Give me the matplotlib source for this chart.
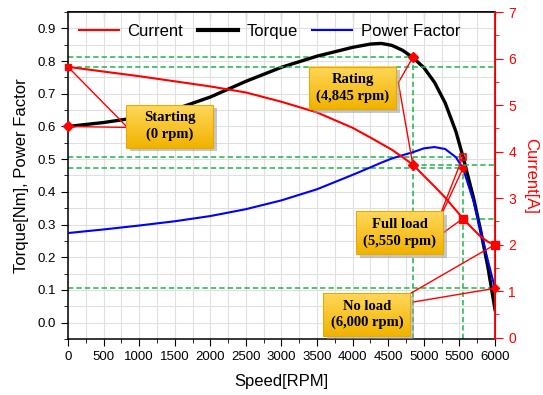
import numpy as np
import matplotlib
matplotlib.use("Agg")
import matplotlib.pyplot as plt
from matplotlib.patches import Rectangle
from matplotlib.lines import Line2D
from matplotlib.colors import LinearSegmentedColormap

plt.rcParams['font.family'] = ['Liberation Sans', 'DejaVu Sans']

# ---------------- data ----------------
speed = [0, 500, 1000, 1500, 2000, 2500, 3000, 3500, 4000, 4250, 4400, 4550,
         4700, 4845, 5000, 5150, 5300, 5450, 5550, 5700, 5800, 5900, 6000]
torque = [0.600, 0.612, 0.628, 0.652, 0.690, 0.738, 0.781, 0.815, 0.842, 0.852,
          0.854, 0.848, 0.833, 0.811, 0.780, 0.735, 0.672, 0.585, 0.508, 0.380,
          0.280, 0.170, 0.040]
power_factor = [0.274, 0.285, 0.297, 0.310, 0.326, 0.347, 0.374, 0.408, 0.452,
                0.475, 0.489, 0.502, 0.512, 0.521, 0.533, 0.537, 0.531, 0.506,
                0.472, 0.370, 0.280, 0.190, 0.105]
current = [5.82, 5.72, 5.62, 5.51, 5.40, 5.27, 5.07, 4.84, 4.51, 4.30, 4.17,
           4.04, 3.88, 3.72, 3.48, 3.25, 3.01, 2.74, 2.56, 2.32, 2.17, 2.06, 2.00]

# operating points: starting, rating, full load, no load
op_speed = [0, 4845, 5550, 6000]
op_torque = [0.600, 0.811, 0.508]          # starting, rating, full load
op_pf = [0.472, 0.105]                     # full load, no load
op_current = [5.82, 3.72, 2.56, 2.00]      # starting, rating, full load, no load
op_labels = ["Starting\n(0 rpm)", "Rating\n(4,845 rpm)",
             "Full load\n(5,550 rpm)", "No load\n(6,000 rpm)"]

x_ticks = list(range(0, 6001, 500))
left_ticks = [0.0, 0.1, 0.2, 0.3, 0.4, 0.5, 0.6, 0.7, 0.8, 0.9]
right_ticks = [0, 1, 2, 3, 4, 5, 6, 7]

# ---------------- figure ----------------
fig = plt.figure(figsize=(5.43, 3.95), dpi=100)
pos = [0.1252, 0.1418, 0.7864, 0.8278]
ax = fig.add_axes(pos)
ax2 = ax.twinx()

XL = (0, 6000)
YL = (-0.05, 0.95)
ax.set_xlim(*XL)
ax.set_ylim(*YL)
ax2.set_ylim(-0.03, 7.0)

GREEN = '#22b34c'
RED = '#ff0000'

# grid
ax.set_xticks(x_ticks)
ax.set_xticks(np.arange(0, 6001, 250), minor=True)
ax.set_yticks(left_ticks)
ax.set_yticks(np.arange(-0.05, 0.951, 0.05), minor=True)
ax.grid(True, which='both', color='#e0e0e0', lw=0.8, zorder=0)
ax.set_axisbelow(True)

# guide lines (dashed green)
gkw = dict(color=GREEN, lw=1.1, ls=(0, (3.5, 2)), zorder=2)
ax.plot([op_speed[0], op_speed[1]], [op_torque[1]] * 2, **gkw)
ax.plot([op_speed[0], op_speed[2]], [op_torque[2]] * 2, **gkw)
ax.plot([op_speed[0], op_speed[2]], [op_pf[0]] * 2, **gkw)
ax.plot([op_speed[0], op_speed[3]], [op_pf[1]] * 2, **gkw)
ax.plot([op_speed[1]] * 2, [YL[0], op_torque[1]], **gkw)
ax.plot([op_speed[2]] * 2, [YL[0], op_torque[2]], **gkw)
ax2.plot([op_speed[0], op_speed[3]], [op_current[0]] * 2, **gkw)
ax2.plot([op_speed[1], op_speed[3]], [op_current[1]] * 2, **gkw)
ax2.plot([op_speed[2], op_speed[3]], [op_current[2]] * 2, **gkw)

# curves
l_t, = ax.plot(speed, torque, color='black', lw=2.4, zorder=3, label='Torque')
l_pf, = ax.plot(speed, power_factor, color='#0000ff', lw=1.5, zorder=4,
                label='Power Factor')
l_c, = ax2.plot(speed, current, color=RED, lw=1.5, zorder=3, label='Current')

# connector lines (drawn on ax2, above curves)
def conn(p0, p1, target_ax):
    ax2.annotate('', xy=p1, xycoords=target_ax.transData, xytext=p0,
                 textcoords=ax.transData,
                 arrowprops=dict(arrowstyle='-', color=RED, lw=1.0,
                                 shrinkA=0, shrinkB=0), zorder=5)

conn((822, 0.597), (op_speed[0], op_torque[0]), ax)
conn((822, 0.600), (op_speed[0], op_current[0]), ax2)
conn((4642, 0.734), (op_speed[1], op_torque[1]), ax)
conn((4642, 0.734), (op_speed[1], op_current[1]), ax2)
conn((5250, 0.341), (op_speed[2], op_torque[2]), ax)
conn((5270, 0.341), (op_speed[2], op_pf[0]), ax)
conn((5274, 0.275), (op_speed[2], op_current[2]), ax2)
conn((4810, 0.089), (op_speed[3], op_current[3]), ax2)
conn((4850, 0.063), (op_speed[3], op_pf[1]), ax)

# markers
mk = dict(color=RED, zorder=6, ls='none', clip_on=False)
ax2.plot([op_speed[0], op_speed[1]], [0, 0], alpha=0)  # keep ax2 x scale
ax.plot([op_speed[0], op_speed[1]], [op_torque[0], op_torque[1]], marker='D', ms=5, **mk)
ax.plot([op_speed[2]], [op_torque[2]], marker='s', ms=5, mfc='none', mew=1.2, **mk)
ax.plot([op_speed[2], op_speed[3]], op_pf, marker='D', ms=4, **mk)
ax2.plot([op_speed[0]], [op_current[0]], marker='s', ms=5, **mk)
ax2.plot([op_speed[1]], [op_current[1]], marker='D', ms=5, **mk)
ax2.plot([op_speed[2], op_speed[3]], op_current[2:], marker='s', ms=5.5, **mk)

# overlay axes for callout boxes
ax3 = fig.add_axes(pos, zorder=10)
ax3.set_xlim(*XL)
ax3.set_ylim(*YL)
ax3.axis('off')
ax3.patch.set_alpha(0)

boxes = [(822, 0.535), (3392, 0.652), (4052, 0.209), (3588, -0.040)]
bw, bh = 1222, 0.131
grad = np.linspace(0, 1, 64).reshape(-1, 1)
cmap = LinearSegmentedColormap.from_list('gold', ['#ffd75a', '#f1b300'])
for (bx, by), txt in zip(boxes, op_labels):
    sh = Rectangle((bx + 45, by - 0.010), bw, bh, facecolor='#9a9a9a',
                   alpha=0.55, edgecolor='none', zorder=1, clip_on=False)
    ax3.add_patch(sh)
    im = ax3.imshow(grad, cmap=cmap, aspect='auto', interpolation='bilinear',
                    extent=(bx, bx + bw, by, by + bh), origin='upper', zorder=2)
    im.set_clip_on(False)
    rect = Rectangle((bx, by), bw, bh, facecolor='none', edgecolor='#e6ab00',
                     lw=0.8, zorder=3, clip_on=False)
    ax3.add_patch(rect)
    ax3.text(bx + bw / 2, by + bh / 2, txt, ha='center', va='center',
             family=['Liberation Serif'], fontweight='bold', fontsize=10.5,
             linespacing=1.3, zorder=4)
ax3.set_xlim(*XL)
ax3.set_ylim(*YL)

# ticks / spines
ax.tick_params(axis='x', which='major', direction='out', length=5, labelsize=9.5)
ax.tick_params(axis='x', which='minor', direction='out', length=3)
ax.tick_params(axis='y', which='major', direction='out', length=5, labelsize=9.5)
ax.tick_params(axis='y', which='minor', direction='out', length=3)
ax.set_yticklabels([f"{v:.1f}" for v in left_ticks])

top = ax.secondary_xaxis('top')
top.set_xticks(x_ticks)
top.set_xticks(np.arange(0, 6001, 250), minor=True)
top.tick_params(which='major', direction='in', length=5, labeltop=False)
top.tick_params(which='minor', direction='in', length=3)
top.spines['top'].set_linewidth(1.1)

ax2.set_yticks(right_ticks)
ax2.set_yticks(np.arange(0, 7.01, 0.5), minor=True)
ax2.tick_params(axis='y', which='major', colors=RED, direction='out', length=6,
                labelsize=10)
ax2.tick_params(axis='y', which='minor', colors=RED, direction='out', length=3)
ax2.spines['right'].set_color(RED)
ax2.spines['right'].set_linewidth(1.3)
for s in ['left', 'bottom', 'top']:
    ax.spines[s].set_linewidth(1.1)
ax2.spines['left'].set_visible(False)
ax2.spines['top'].set_visible(False)
ax2.spines['bottom'].set_visible(False)

ax.set_xlabel('Speed[RPM]', fontsize=12, labelpad=8)
ax.set_ylabel('Torque[Nm], Power Factor', fontsize=12, labelpad=6)
ax2.set_ylabel('Current[A]', fontsize=12, color=RED, rotation=270, labelpad=16)

# legend
ax3.legend([l_c, Line2D([], [], color='black', lw=3), l_pf],
           ['Current', 'Torque', 'Power Factor'], loc='upper left',
           bbox_to_anchor=(-0.01, 1.01), ncol=3, frameon=False,
           fontsize=12, handlelength=2.4, columnspacing=0.9,
           handletextpad=0.5)

fig.savefig('out.png', dpi=100, facecolor='white')
